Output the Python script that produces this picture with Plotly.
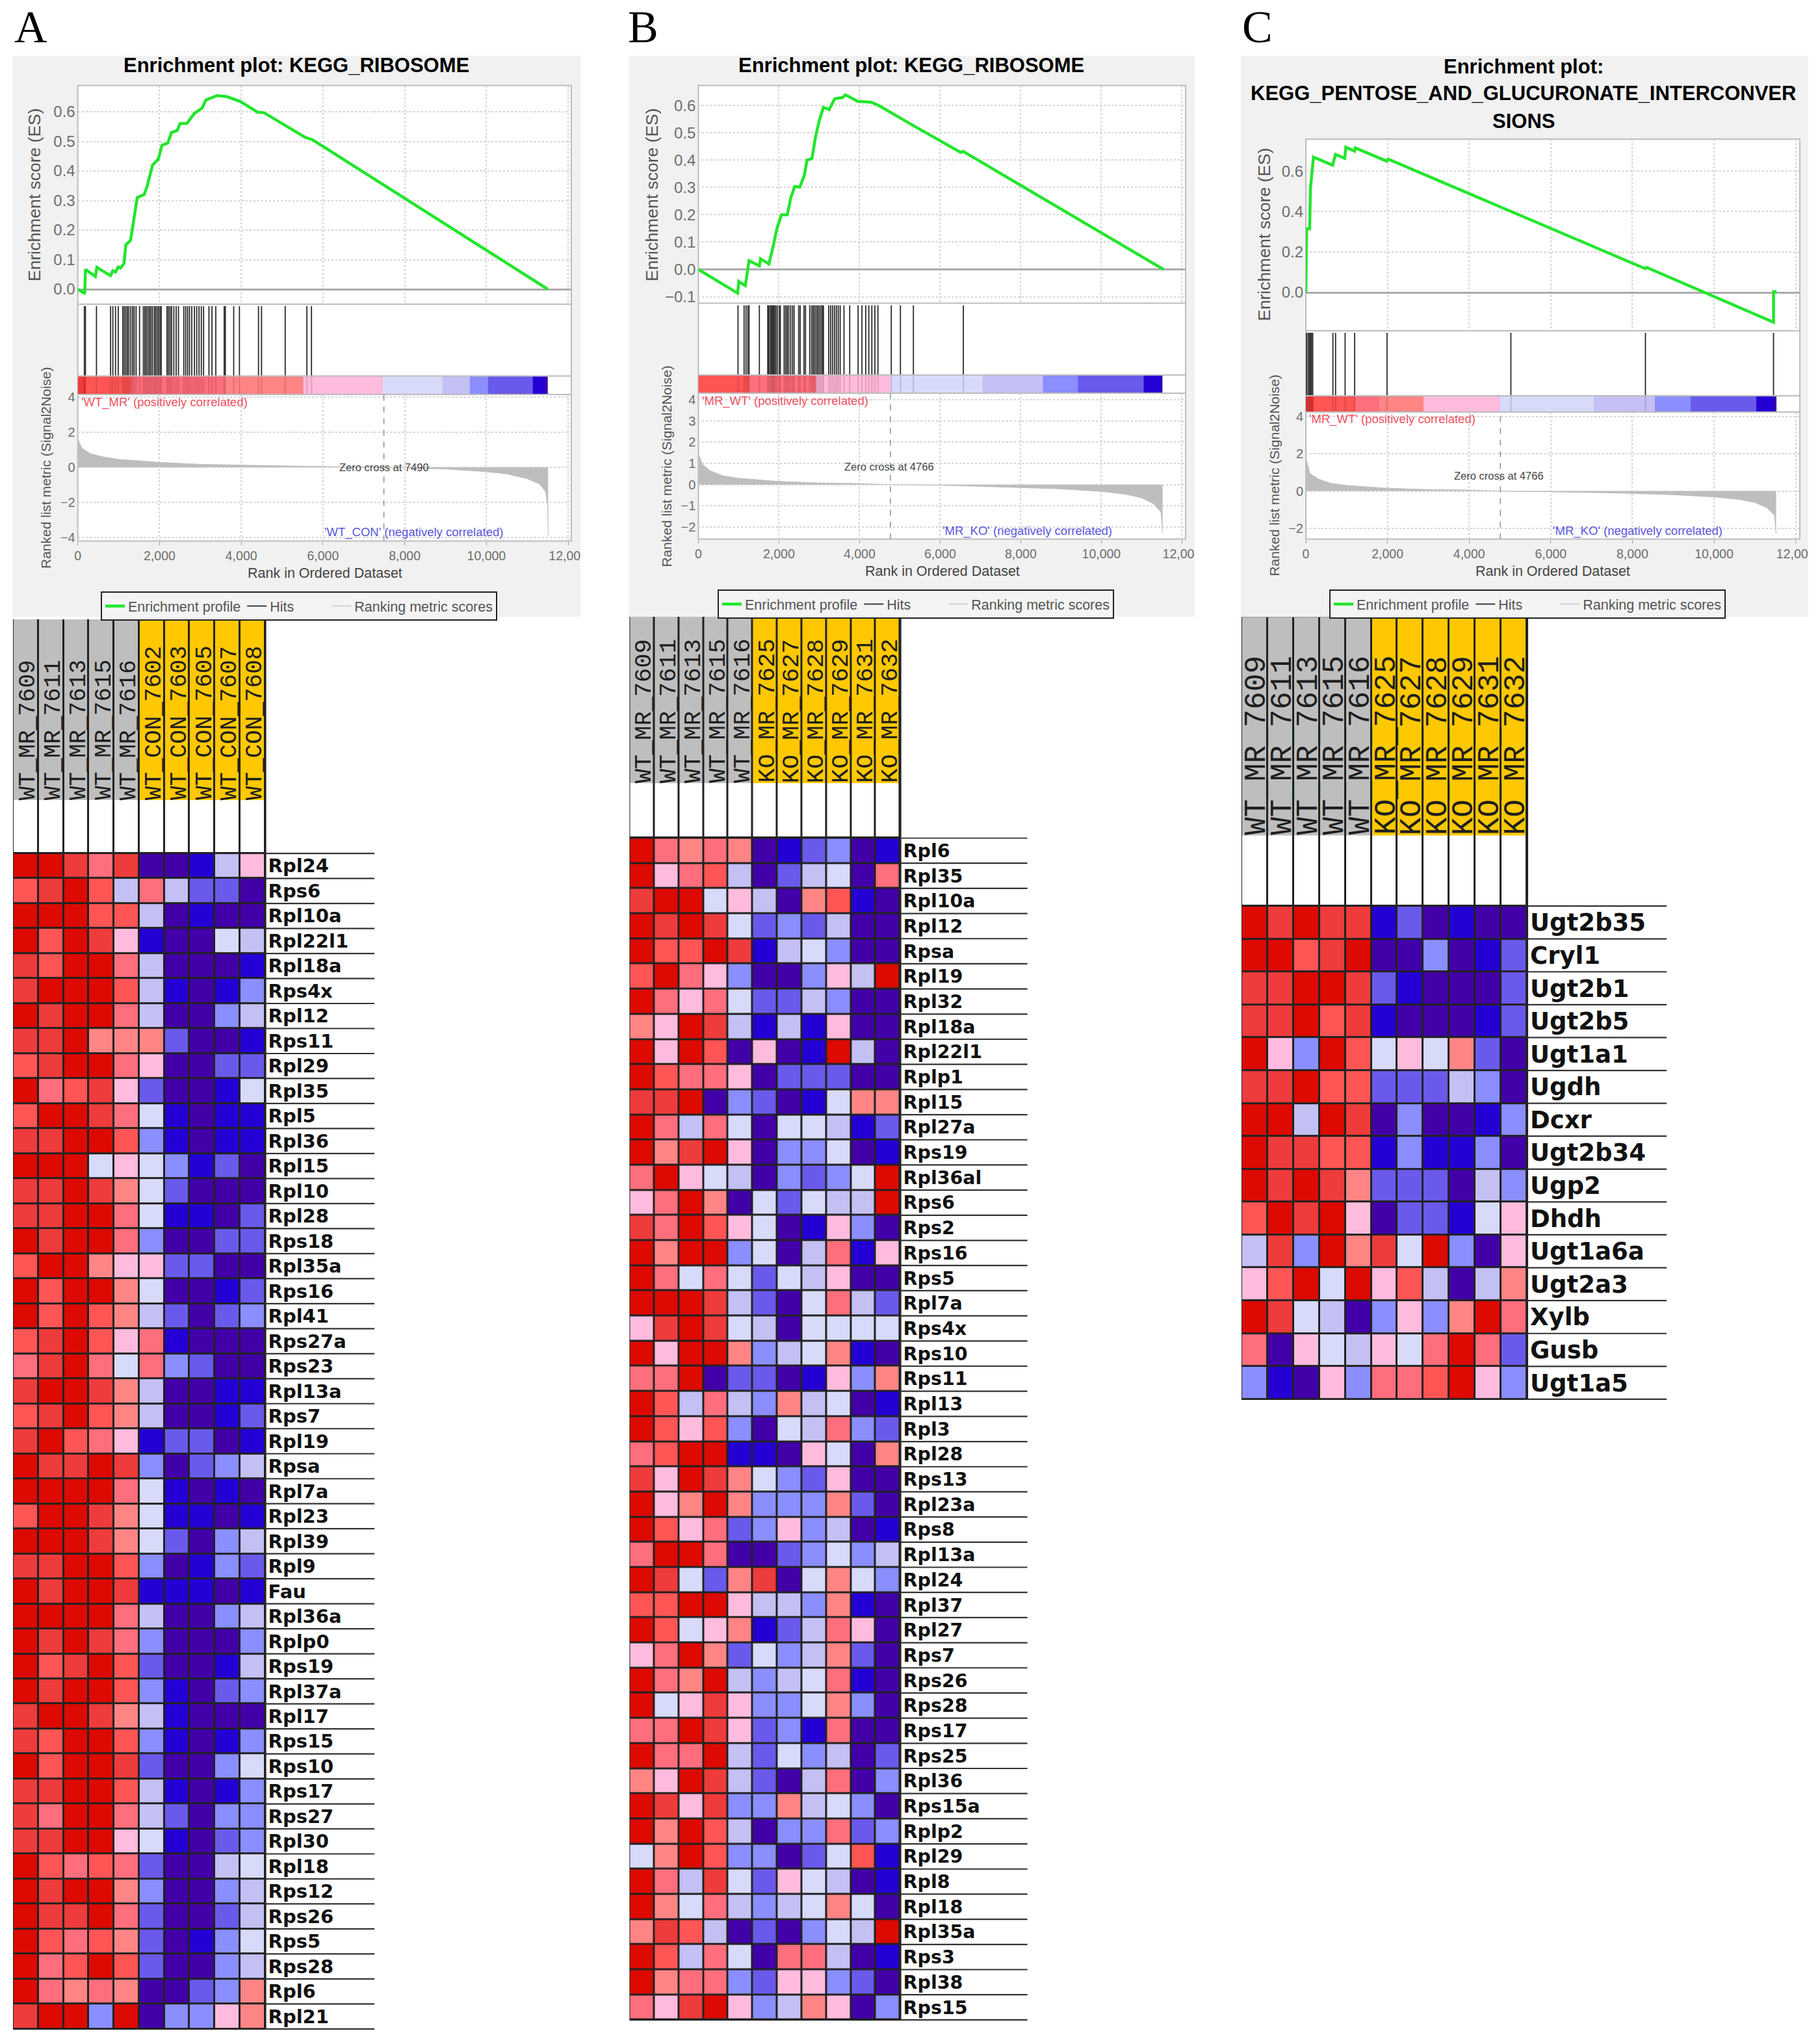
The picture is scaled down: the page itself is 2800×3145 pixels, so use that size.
import plotly.graph_objects as go

W, H = 2800, 3145

# ------------------------------------------------------------------ data
LEVEL_COLORS = ["#DC0A00", "#EE3B3B", "#FF5555", "#FF6E7C", "#FF8585", "#FFBBDD",
                "#D8DAFA", "#C4C0F4", "#8A8EFF", "#6A5AEC", "#2400D4", "#4200A8"]

ES_RANK_A = [0, 170, 187, 430, 466, 800, 858, 923, 989, 1050, 1130, 1175, 1290, 1340, 1410, 1455, 1625, 1700, 1755, 1830, 1970, 2060, 2200, 2295, 2435, 2500, 2670, 2855, 3040, 3135, 3415, 3650, 3975, 4395, 4555, 5560, 5750, 11500]
ES_VAL_A = [0.0, -0.015, 0.067, 0.043, 0.074, 0.046, 0.062, 0.058, 0.075, 0.072, 0.087, 0.15, 0.165, 0.21, 0.258, 0.31, 0.32, 0.35, 0.38, 0.42, 0.44, 0.487, 0.494, 0.53, 0.537, 0.56, 0.561, 0.595, 0.612, 0.64, 0.655, 0.651, 0.635, 0.599, 0.597, 0.514, 0.505, 0.0]
HITS_A = [160, 187, 457, 802, 858, 923, 989, 1100, 1138, 1175, 1213, 1250, 1297, 1343, 1380, 1427, 1511, 1604, 1642, 1679, 1716, 1754, 1791, 1828, 1875, 1903, 1940, 1978, 2015, 2043, 2183, 2220, 2257, 2295, 2350, 2407, 2463, 2593, 2640, 2687, 2733, 2789, 2854, 2910, 2966, 3022, 3078, 3209, 3284, 3377, 3582, 3610, 3815, 3955, 4422, 4496, 5075, 5606, 5718]
BAR_EDGES_A = [0, 196, 1315, 3600, 5513, 7453, 8918, 9599, 10037, 11129, 11437, 11502]
BAR_LEVELS_A = [1, 2, 3, 4, 5, 6, 7, 8, 9, 10, 11]
METRIC_RANK_A = [0, 100, 300, 600, 1000, 2000, 3000, 4000, 5000, 6000, 7000, 7490, 8000, 9000, 10000, 10500, 11000, 11300, 11450, 11495, 11510]
METRIC_VAL_A = [1.6, 1.1, 0.78, 0.6, 0.45, 0.28, 0.17, 0.12, 0.07, 0.04, 0.01, 0.0, -0.03, -0.1, -0.25, -0.38, -0.65, -0.95, -1.4, -2.2, -3.9]

ES_RANK_B = [0, 975, 1003, 1164, 1258, 1514, 1542, 1750, 1854, 1949, 2062, 2204, 2299, 2394, 2517, 2630, 2696, 2819, 2914, 3008, 3103, 3245, 3387, 3576, 3652, 3955, 4286, 4475, 5374, 6509, 6575, 6651, 11542]
ES_VAL_B = [0.0, -0.087, -0.044, -0.06, 0.032, 0.013, 0.039, 0.02, 0.083, 0.149, 0.2, 0.2, 0.265, 0.304, 0.301, 0.345, 0.4, 0.406, 0.49, 0.549, 0.593, 0.585, 0.625, 0.629, 0.639, 0.615, 0.612, 0.6, 0.523, 0.428, 0.432, 0.425, 0.0]
HITS_B = [984, 1135, 1183, 1230, 1258, 1514, 1722, 1750, 1788, 1816, 1845, 1864, 1892, 1921, 1958, 2006, 2034, 2129, 2166, 2204, 2242, 2290, 2337, 2375, 2488, 2526, 2621, 2659, 2763, 2810, 2848, 2886, 2923, 2961, 2999, 3037, 3075, 3103, 3236, 3283, 3330, 3378, 3425, 3472, 3520, 3614, 3756, 3964, 4059, 4153, 4229, 4305, 4380, 4456, 4787, 5014, 5336, 6575]
BAR_EDGES_B = [0, 1258, 2914, 4759, 7048, 8543, 9413, 11050, 11476, 11523]
BAR_LEVELS_B = [2, 3, 5, 6, 7, 8, 9, 10, 11]
METRIC_RANK_B = [0, 100, 300, 600, 1000, 2000, 3000, 4000, 4766, 6000, 7000, 8000, 9000, 10000, 10600, 11000, 11300, 11480, 11520]
METRIC_VAL_B = [1.45, 0.95, 0.65, 0.42, 0.3, 0.15, 0.08, 0.05, 0.0, -0.03, -0.08, -0.13, -0.2, -0.32, -0.45, -0.62, -0.9, -1.3, -2.3]

ES_RANK_C = [0, 19, 93, 112, 149, 187, 654, 728, 952, 980, 1195, 1214, 1979, 2017, 8310, 8347, 11457, 11457, 11531]
ES_VAL_C = [0.0, 0.315, 0.315, 0.511, 0.59, 0.669, 0.629, 0.682, 0.663, 0.718, 0.698, 0.714, 0.649, 0.659, 0.118, 0.124, -0.147, 0.004, 0.004]
HITS_C = [19, 56, 84, 112, 140, 168, 663, 728, 962, 1195, 1989, 5023, 8319, 11457]
BAR_EDGES_C = [0, 187, 1214, 1793, 2876, 4762, 7050, 8543, 9430, 11036, 11485, 11530]
BAR_LEVELS_C = [1, 2, 3, 4, 5, 6, 7, 8, 9, 10, 11]
METRIC_RANK_C = [0, 100, 300, 600, 1000, 2000, 3000, 4000, 4766, 6000, 7000, 8000, 9000, 10000, 10600, 11000, 11300, 11480, 11520]
METRIC_VAL_C = [1.8, 0.95, 0.65, 0.42, 0.3, 0.15, 0.08, 0.05, 0.0, -0.03, -0.08, -0.13, -0.2, -0.32, -0.45, -0.62, -0.9, -1.3, -2.3]

SAMPLES_A = ["WT_MR_7609", "WT_MR_7611", "WT_MR_7613", "WT_MR_7615", "WT_MR_7616",
             "WT_CON_7602", "WT_CON_7603", "WT_CON_7605", "WT_CON_7607", "WT_CON_7608"]
SAMPLES_BC = ["WT_MR_7609", "WT_MR_7611", "WT_MR_7613", "WT_MR_7615", "WT_MR_7616",
              "KO_MR_7625", "KO_MR_7627", "KO_MR_7628", "KO_MR_7629", "KO_MR_7631", "KO_MR_7632"]

GENES_A = ["Rpl24", "Rps6", "Rpl10a", "Rpl22l1", "Rpl18a", "Rps4x", "Rpl12", "Rps11", "Rpl29", "Rpl35", "Rpl5", "Rpl36", "Rpl15", "Rpl10", "Rpl28", "Rps18", "Rpl35a", "Rps16", "Rpl41", "Rps27a", "Rps23", "Rpl13a", "Rps7", "Rpl19", "Rpsa", "Rpl7a", "Rpl23", "Rpl39", "Rpl9", "Fau", "Rpl36a", "Rplp0", "Rps19", "Rpl37a", "Rpl17", "Rps15", "Rps10", "Rps17", "Rps27", "Rpl30", "Rpl18", "Rps12", "Rps26", "Rps5", "Rps28", "Rpl6", "Rpl21"]
HEAT_A = [
 [0,0,1,3,1,11,11,10,7,5],[2,1,0,2,7,3,7,9,9,11],[0,0,0,2,2,7,11,10,11,11],[0,2,0,1,5,10,11,11,6,7],
 [1,2,0,0,3,7,11,11,11,10],[1,0,0,0,2,7,10,11,10,8],[0,1,0,0,3,7,11,11,8,7],[1,1,0,4,4,4,9,11,11,10],
 [2,1,0,0,3,5,11,11,9,9],[0,3,2,1,5,9,11,11,10,6],[2,0,0,1,3,6,10,11,10,10],[1,1,0,0,2,8,10,11,10,10],
 [0,0,0,6,5,6,8,10,9,11],[1,1,0,1,4,6,9,11,11,11],[1,1,0,0,3,6,10,10,11,9],[0,1,0,0,3,8,11,11,9,9],
 [2,0,0,4,5,5,9,9,11,11],[0,2,0,0,4,6,11,11,10,9],[0,2,0,2,4,7,9,11,9,8],[2,1,0,2,5,3,10,11,11,11],
 [3,1,0,3,6,3,8,9,11,11],[1,0,0,1,4,7,11,11,10,10],[2,1,0,2,4,7,11,11,10,9],[1,0,2,3,5,10,9,9,11,10],
 [0,1,1,0,1,8,11,9,8,7],[0,0,0,0,3,6,10,11,10,11],[2,0,0,1,4,6,10,10,11,10],[0,0,0,1,4,6,9,11,8,7],
 [1,1,0,0,2,8,11,10,8,9],[0,1,0,0,1,10,10,10,11,10],[0,0,0,0,3,7,11,11,8,7],[0,1,0,1,3,8,11,11,11,8],
 [0,2,1,0,2,9,11,11,10,7],[0,1,0,0,2,8,10,11,9,8],[1,0,0,1,4,7,10,11,11,11],[1,2,0,0,2,8,10,11,10,8],
 [0,2,0,0,1,9,11,11,8,6],[1,1,0,0,2,7,10,11,10,8],[1,3,0,0,3,7,9,11,8,8],[1,1,0,0,5,6,10,11,9,8],
 [0,2,3,2,3,9,11,11,7,6],[0,1,0,0,4,8,11,11,8,7],[0,1,1,0,3,9,11,11,9,7],[0,2,3,2,4,9,11,10,8,6],
 [0,3,2,0,2,9,11,11,8,7],[0,3,4,3,4,11,11,9,8,4],[1,0,0,8,0,11,8,8,5,4]]

GENES_B = ["Rpl6", "Rpl35", "Rpl10a", "Rpl12", "Rpsa", "Rpl19", "Rpl32", "Rpl18a", "Rpl22l1", "Rplp1", "Rpl15", "Rpl27a", "Rps19", "Rpl36al", "Rps6", "Rps2", "Rps16", "Rps5", "Rpl7a", "Rps4x", "Rps10", "Rps11", "Rpl13", "Rpl3", "Rpl28", "Rps13", "Rpl23a", "Rps8", "Rpl13a", "Rpl24", "Rpl37", "Rpl27", "Rps7", "Rps26", "Rps28", "Rps17", "Rps25", "Rpl36", "Rps15a", "Rplp2", "Rpl29", "Rpl8", "Rpl18", "Rpl35a", "Rps3", "Rpl38", "Rps15"]
HEAT_B = [
 [0,3,4,3,4,11,10,9,8,11,10],[0,5,3,2,7,11,9,7,6,11,3],[1,0,0,6,5,7,11,4,2,10,11],[0,1,0,1,6,9,8,9,7,11,11],
 [0,2,2,0,1,10,7,6,8,11,11],[2,0,3,5,8,11,11,8,5,7,0],[0,3,5,3,6,9,9,7,8,11,11],[4,5,0,1,7,10,7,10,5,11,11],
 [0,5,0,2,11,5,11,10,0,7,11],[0,2,3,3,5,11,9,9,9,11,11],[1,1,0,11,8,9,11,10,6,4,4],[0,3,7,3,6,11,6,6,7,10,9],
 [0,4,1,0,5,11,8,8,6,11,10],[3,0,5,6,7,11,8,9,8,6,0],[5,3,0,4,11,6,9,6,7,7,0],[1,3,0,2,5,6,11,10,5,8,11],
 [0,4,0,0,8,6,11,7,3,10,5],[0,3,6,3,6,9,6,7,5,11,11],[0,0,0,1,7,9,11,6,3,7,9],[5,1,0,1,6,7,11,6,6,6,6],
 [0,5,0,0,4,8,7,6,4,10,11],[3,3,0,11,9,9,11,10,5,8,4],[0,2,7,3,7,8,4,7,6,11,10],[0,2,5,2,8,11,6,7,3,8,9],
 [3,2,0,0,10,10,11,5,6,11,4],[1,5,0,1,4,6,8,9,5,11,11],[0,5,4,0,4,8,8,8,4,9,11],[0,2,5,3,9,8,5,8,7,11,10],
 [3,0,0,3,11,11,9,8,6,8,7],[0,1,6,9,4,1,11,6,4,6,8],[2,2,0,0,5,7,7,8,4,10,11],[0,2,6,5,4,10,9,7,3,5,11],
 [5,3,0,4,9,6,8,7,4,9,11],[0,3,4,0,7,8,7,6,3,10,11],[0,6,5,1,5,8,8,6,4,8,11],[3,3,0,1,5,9,8,10,3,11,11],
 [0,3,3,0,7,9,6,8,7,11,9],[4,5,0,1,7,9,11,7,3,11,8],[0,1,5,1,8,8,4,7,6,8,11],[0,4,0,2,7,11,8,8,3,9,8],
 [6,4,0,2,8,8,11,9,6,2,10],[0,3,7,1,6,9,5,6,7,11,10],[0,4,6,3,7,8,7,6,4,6,11],[4,1,2,7,11,9,11,8,6,7,0],
 [0,2,7,3,6,11,3,3,7,11,10],[0,4,3,3,8,9,5,5,8,9,11],[3,5,1,0,5,8,7,4,5,11,8]]

GENES_C = ["Ugt2b35", "Cryl1", "Ugt2b1", "Ugt2b5", "Ugt1a1", "Ugdh", "Dcxr", "Ugt2b34", "Ugp2", "Dhdh", "Ugt1a6a", "Ugt2a3", "Xylb", "Gusb", "Ugt1a5"]
HEAT_C = [
 [0,1,0,1,1,10,9,11,10,11,11],[0,0,2,1,0,11,11,8,11,10,9],[1,1,0,0,1,9,10,11,11,11,9],[1,1,0,2,1,10,11,11,11,10,9],
 [0,5,8,0,2,6,5,6,4,9,11],[1,1,0,2,2,9,9,9,7,8,11],[0,0,7,0,1,11,8,11,11,10,8],[0,1,1,2,2,10,8,10,10,8,11],
 [0,1,0,1,4,9,9,9,11,7,8],[2,0,1,0,5,11,9,9,10,6,5],[7,1,8,0,4,1,6,0,8,11,5],[5,2,0,6,0,5,2,7,11,7,4],
 [0,1,6,7,11,8,5,8,4,0,3],[3,11,5,6,7,5,6,3,0,3,9],[8,10,11,5,8,3,3,2,0,5,8]]

TICK_RANKS = [0, 2000, 4000, 6000, 8000, 10000, 12000]

# ------------------------------------------------------------------ layout geometry (pixels in the final page)
PANELS = [
 dict(letter="A", lx=47, bg=(19, 893), left=119.7, right=879, top=131.6, div=468, ctop=578.5, cbot=607, bot=832.6,
      ppk=62.87, es0=445, es_per=455, metric0=719, metric_per=27, esd=0.1, mtick=[-4, -2, 0, 2, 4],
      title=["Enrichment plot: KEGG_RIBOSOME"], tx=456, ty=[101],
      es=(ES_RANK_A, ES_VAL_A), hits=HITS_A, bar=(BAR_EDGES_A, BAR_LEVELS_A), metric=(METRIC_RANK_A, METRIC_VAL_A),
      zero=7490, zero_label=("Zero cross at 7490", 7490, 0), red=("'WT_MR' (positively correlated)", 56, 3.7),
      blue=("'WT_CON' (negatively correlated)", 8218, -3.7), es_tx=(53, 300), m_tx=(70, 720), x_tx=(500, 882),
      leg=(155, 910), cover=(893, 967),
      samples=SAMPLES_A, genes=GENES_A, heat=HEAT_A, hleft=20, hright=407.6, htop=953, hcol=1232, hrow=1312, hbot=3123,
      line_end=576, lfont=29, sfont=36),
 dict(letter="B", lx=989, bg=(967.6, 1838), left=1074.4, right=1824, top=131.6, div=466.5, ctop=577, cbot=605, bot=829.5,
      ppk=62.0, es0=414.5, es_per=420.4, metric0=745.7, metric_per=32.7, esd=0.1, mtick=[-2, -1, 0, 1, 2, 3, 4],
      title=["Enrichment plot: KEGG_RIBOSOME"], tx=1402, ty=[101],
      es=(ES_RANK_B, ES_VAL_B), hits=HITS_B, bar=(BAR_EDGES_B, BAR_LEVELS_B), metric=(METRIC_RANK_B, METRIC_VAL_B),
      zero=4766, zero_label=("Zero cross at 4766", 4730, 0.86), red=("'MR_WT' (positively correlated)", 57, 3.93),
      blue=("'MR_KO' (negatively correlated)", 8155, -2.17), es_tx=(1003, 300), m_tx=(1026, 717.6), x_tx=(1450, 879),
      leg=(1104, 907), cover=(1838, 1909),
      samples=SAMPLES_BC, genes=GENES_B, heat=HEAT_B, hleft=968.4, hright=1384.6, htop=949, hcol=1206, hrow=1288.4, hbot=3109,
      line_end=1580.6, lfont=28.5, sfont=37),
 dict(letter="C", lx=1934, bg=(1909, 2782), left=2009, right=2769, top=214, div=509, ctop=609, cbot=634, bot=829.5,
      ppk=62.8, es0=450, es_per=311.4, metric0=755.5, metric_per=28.6, esd=0.2, mtick=[-2, 0, 2, 4],
      title=["Enrichment plot:", "KEGG_PENTOSE_AND_GLUCURONATE_INTERCONVER", "SIONS"], tx=2343.5, ty=[102, 144, 186],
      es=(ES_RANK_C, ES_VAL_C), hits=HITS_C, bar=(BAR_EDGES_C, BAR_LEVELS_C), metric=(METRIC_RANK_C, METRIC_VAL_C),
      zero=4766, zero_label=("Zero cross at 4766", 4734, 0.83), red=("'MR_WT' (positively correlated)", 47, 3.88),
      blue=("'MR_KO' (negatively correlated)", 8130, -2.14), es_tx=(1945, 361), m_tx=(1961, 731.6), x_tx=(2389, 879),
      leg=(2045, 907), cover=(2782, 2800),
      samples=SAMPLES_BC, genes=GENES_C, heat=HEAT_C, hleft=1910, hright=2349, htop=949.5, hcol=1286, hrow=1393, hbot=2154,
      line_end=2564, lfont=37, sfont=46),
]

SANS = "Liberation Sans"
GRID = "#D4D4D4"
FRAME = "#BDBDBD"
TICK = "#6E6E6E"

def px(x):
    return x / W

def py(y):
    return 1 - y / H

def dom_x(a, b):
    return [px(a), px(b)]

def dom_y(top, bottom):
    return [py(bottom), py(top)]

LEVEL_SCALE = []
for i, c in enumerate(LEVEL_COLORS):
    LEVEL_SCALE += [[i / 12, c], [(i + 1) / 12, c]]
HEADER_SCALE = [[0, "#BEBEBE"], [1 / 3, "#BEBEBE"], [1 / 3, "#FFC800"], [2 / 3, "#FFC800"], [2 / 3, "#FFFFFF"], [1, "#FFFFFF"]]

fig = go.Figure()
layout = {}
shapes = []
ann = []
axis_n = [0]

def new_axes(xd, yd, xopts, yopts):
    axis_n[0] += 1
    n = axis_n[0]
    sx = "" if n == 1 else str(n)
    layout["xaxis" + sx] = dict(domain=xd, anchor="y" + sx, **xopts)
    layout["yaxis" + sx] = dict(domain=yd, anchor="x" + sx, **yopts)
    return "x" + sx, "y" + sx

def text(t, x, y, size, color="#000", family=SANS, **kw):
    kw.setdefault("xanchor", "center")
    kw.setdefault("yanchor", "middle")
    ann.append(dict(text=t, x=x, y=y, xref=kw.pop("xref", "paper"), yref=kw.pop("yref", "paper"), showarrow=False,
                    font=dict(size=size, color=color, family=family), **kw))

for pi, p in enumerate(PANELS):
    legend_id = "legend" if pi == 0 else "legend%d" % (pi + 1)
    # panel furniture
    shapes.append(dict(type="rect", xref="paper", yref="paper", x0=px(p["bg"][0]), x1=px(p["bg"][1]), y0=py(949), y1=py(85.7),
                       fillcolor="#F1F1F1", line_width=0, layer="below"))
    shapes.append(dict(type="rect", xref="paper", yref="paper", x0=px(p["left"]), x1=px(p["right"]), y0=py(p["bot"]), y1=py(p["top"]),
                       fillcolor="#FFFFFF", line=dict(color=FRAME, width=2), layer="below"))
    text(p["letter"], px(p["lx"]), py(41), 70, family="Liberation Serif")
    for t, ty in zip(p["title"], p["ty"]):
        text("<b>%s</b>" % t, px(p["tx"]), py(ty), 31)
    xmax = (p["right"] - p["left"]) / p["ppk"] * 1000
    xr = [0, xmax]
    base_x = dict(range=xr, tickvals=TICK_RANKS, showgrid=True, gridcolor=GRID, griddash="dot", gridwidth=1.5, zeroline=False,
                  showline=False, showticklabels=False, ticks="")
    # enrichment score
    es_hi = (p["es0"] - p["top"]) / p["es_per"]
    es_lo = (p["es0"] - p["div"]) / p["es_per"]
    xa, ya = new_axes(dom_x(p["left"], p["right"]), dom_y(p["top"], p["div"]), base_x,
                      dict(range=[es_lo, es_hi], dtick=p["esd"], tickformat=".1f", showgrid=True, gridcolor=GRID, griddash="dot",
                           gridwidth=1.5, zeroline=True, zerolinecolor="#ABABAB", zerolinewidth=2.5, showline=False, ticks="",
                           tickfont=dict(size=24, color=TICK, family=SANS), ticklabelstandoff=3))
    fig.add_trace(go.Scatter(x=p["es"][0], y=p["es"][1], xaxis=xa, yaxis=ya, mode="lines", name="Enrichment profile",
                             line=dict(color="#22E62C", width=4.5), legend=legend_id, hoverinfo="skip"))
    shapes.append(dict(type="line", xref="paper", yref="paper", x0=px(p["left"]), x1=px(p["right"]), y0=py(p["div"]), y1=py(p["div"]),
                       line=dict(color=FRAME, width=2), layer="below"))
    # hits
    hx, hy = [], []
    for r in p["hits"]:
        hx += [r, r, None]
        hy += [0, 1, None]
    xa, ya = new_axes(dom_x(p["left"], p["right"]), dom_y(p["div"] + 3, p["ctop"]),
                      dict(range=xr, showgrid=False, zeroline=False, showticklabels=False, ticks=""),
                      dict(range=[0, 1], showgrid=False, zeroline=False, showticklabels=False, ticks=""))
    fig.add_trace(go.Scatter(x=hx, y=hy, xaxis=xa, yaxis=ya, mode="lines", name="Hits", line=dict(color="#2A2A2A", width=1.8),
                             legend=legend_id, legendwidth=85, hoverinfo="skip"))
    # ranked colour bar
    xa, ya = new_axes(dom_x(p["left"], p["right"]), dom_y(p["ctop"], p["cbot"]),
                      dict(range=xr, showgrid=False, zeroline=False, showticklabels=False, ticks=""),
                      dict(range=[0, 1], showgrid=False, zeroline=False, showticklabels=False, ticks=""))
    fig.add_trace(go.Heatmap(x=p["bar"][0], y=[0, 1], z=[p["bar"][1]], xaxis=xa, yaxis=ya, zmin=0, zmax=12, colorscale=LEVEL_SCALE,
                             showscale=False, hoverinfo="skip", showlegend=False))
    fig.add_trace(go.Scatter(x=hx, y=hy, xaxis=xa, yaxis=ya, mode="lines", line=dict(color="rgba(60,0,0,0.13)", width=2.5),
                             showlegend=False, hoverinfo="skip"))
    for yy in (p["ctop"], p["cbot"]):
        shapes.append(dict(type="line", xref="paper", yref="paper", x0=px(p["left"]), x1=px(p["right"]), y0=py(yy), y1=py(yy),
                           line=dict(color=FRAME, width=2), layer="above"))
    # ranked metric
    m_hi = (p["metric0"] - p["cbot"]) / p["metric_per"]
    m_lo = (p["metric0"] - p["bot"]) / p["metric_per"]
    xo = dict(base_x)
    xo.update(showticklabels=True, ticks="outside", ticklen=5, tickcolor="#999", tickformat=",d",
              tickfont=dict(size=19.5, color=TICK, family=SANS), showline=False)
    xa, ya = new_axes(dom_x(p["left"], p["right"]), dom_y(p["cbot"], p["bot"]), xo,
                      dict(range=[m_lo, m_hi], tickvals=p["mtick"], showgrid=True, gridcolor=GRID, griddash="dot", gridwidth=1.5,
                           zeroline=False, showline=False, ticks="", tickfont=dict(size=20, color=TICK, family=SANS), ticklabelstandoff=3))
    fig.add_trace(go.Scatter(x=p["metric"][0], y=p["metric"][1], xaxis=xa, yaxis=ya, mode="lines", fill="tozeroy", fillcolor="#BEBEBE",
                             line=dict(color="#BEBEBE", width=1), showlegend=False, hoverinfo="skip"))
    fig.add_trace(go.Scatter(x=[None], y=[None], xaxis=xa, yaxis=ya, mode="lines", name="Ranking metric scores",
                             line=dict(color="#D2D2D2", width=2), legend=legend_id, hoverinfo="skip"))
    fig.add_trace(go.Scatter(x=[p["zero"], p["zero"]], y=[m_lo, m_hi], xaxis=xa, yaxis=ya, mode="lines",
                             line=dict(color="#8C8C8C", width=1.5, dash="dash"), showlegend=False, hoverinfo="skip"))
    lab, lx_, ly_ = p["zero_label"]
    text(lab, lx_, ly_, 16.5, "#444444", xref=xa, yref=ya)
    lab, lx_, ly_ = p["red"]
    text(lab, lx_, ly_, 18.5, "#F0505F", xref=xa, yref=ya, xanchor="left")
    lab, lx_, ly_ = p["blue"]
    text(lab, lx_, ly_, 18.5, "#5A55E0", xref=xa, yref=ya)
    # axis titles
    text("Enrichment score (ES)", px(p["es_tx"][0]), py(p["es_tx"][1]), 26.5, "#555555", textangle=-90)
    text("Ranked list metric (Signal2Noise)", px(p["m_tx"][0]), py(p["m_tx"][1]), 21, "#555555", textangle=-90)
    text("Rank in Ordered Dataset", px(p["x_tx"][0]), py(p["x_tx"][1]), 21.5, "#444444")
    # cut-off of the last tick label
    shapes.append(dict(type="rect", xref="paper", yref="paper", x0=px(p["cover"][0]), x1=px(p["cover"][1]), y0=py(900), y1=py(835),
                       fillcolor="#FFFFFF", line_width=0, layer="above"))
    # legend
    layout[legend_id] = dict(orientation="h", x=px(p["leg"][0]), y=py(p["leg"][1]), xanchor="left", yanchor="top",
                             bgcolor="#F4F4F4", bordercolor="#222222", borderwidth=2, traceorder="normal",
                             font=dict(size=21.5, color="#555555", family=SANS), itemwidth=30, tracegroupgap=0)

    # sample header
    n_col = len(p["samples"])
    groups = [0 if s.startswith("WT_MR") else 1 for s in p["samples"]]
    shapes.append(dict(type="rect", xref="paper", yref="paper", x0=px(p["hleft"]), x1=px(p["hright"] + 2), y0=py(p["hbot"]), y1=py(p["htop"]),
                       fillcolor="#222222", line_width=0, layer="below"))
    col_x = list(range(n_col))
    frac = (p["hrow"] - p["hcol"]) / (p["hrow"] - p["htop"])
    xa, ya = new_axes(dom_x(p["hleft"], p["hright"]), dom_y(p["htop"], p["hrow"] - 1),
                      dict(range=[-0.5, n_col - 0.5], showgrid=False, zeroline=False, showticklabels=False, ticks=""),
                      dict(range=[0, 1], showgrid=False, zeroline=False, showticklabels=False, ticks=""))
    fig.add_trace(go.Heatmap(x=col_x, y=[0, frac, 1], z=[[2] * n_col, groups], xaxis=xa, yaxis=ya, zmin=0, zmax=3, xgap=3, ygap=0,
                             colorscale=HEADER_SCALE, showscale=False, hoverinfo="skip", showlegend=False))
    for c, s in enumerate(p["samples"]):
        text(s, c, py(p["hcol"] + 1), p["sfont"], "#1E1E1E", family="Liberation Mono", xref=xa, textangle=-90,
             xanchor="center", yanchor="bottom", xshift=4)
    # expression heat map
    xa, ya = new_axes(dom_x(p["hleft"], p["hright"]), dom_y(p["hrow"], p["hbot"]),
                      dict(range=[-0.5, n_col - 0.5], showgrid=False, zeroline=False, showticklabels=False, ticks=""),
                      dict(side="right", autorange="reversed", type="category", categoryorder="array", categoryarray=p["genes"],
                           showgrid=False, zeroline=False, ticks="", tickmode="array", tickvals=p["genes"], ticktext=p["genes"],
                           ticklabelstandoff=4, tickfont=dict(size=p["lfont"], color="#111111", family="DejaVu Sans", weight="bold")))
    fig.add_trace(go.Heatmap(x=col_x, y=p["genes"], z=p["heat"], xaxis=xa, yaxis=ya, zmin=0, zmax=12,
                             colorscale=LEVEL_SCALE, xgap=3, ygap=3, showscale=False, hoverinfo="skip", showlegend=False))
    for r in range(len(p["genes"]) + 1):
        shapes.append(dict(type="line", xref="paper", yref=ya, x0=px(p["hright"]), x1=px(p["line_end"]), y0=r - 0.5, y1=r - 0.5,
                           line=dict(color="#333333", width=2.2), layer="above"))

layout.update(width=W, height=H, margin=dict(l=0, r=0, t=0, b=0, pad=0, autoexpand=False), paper_bgcolor="#FFFFFF", plot_bgcolor="rgba(0,0,0,0)",
              shapes=shapes, annotations=ann, showlegend=True, font=dict(family=SANS))
fig.update_layout(**layout)
fig.write_html("out.html", config=dict(displayModeBar=False),
               post_script="document.body.style.margin='0';document.body.style.overflow='hidden';")
